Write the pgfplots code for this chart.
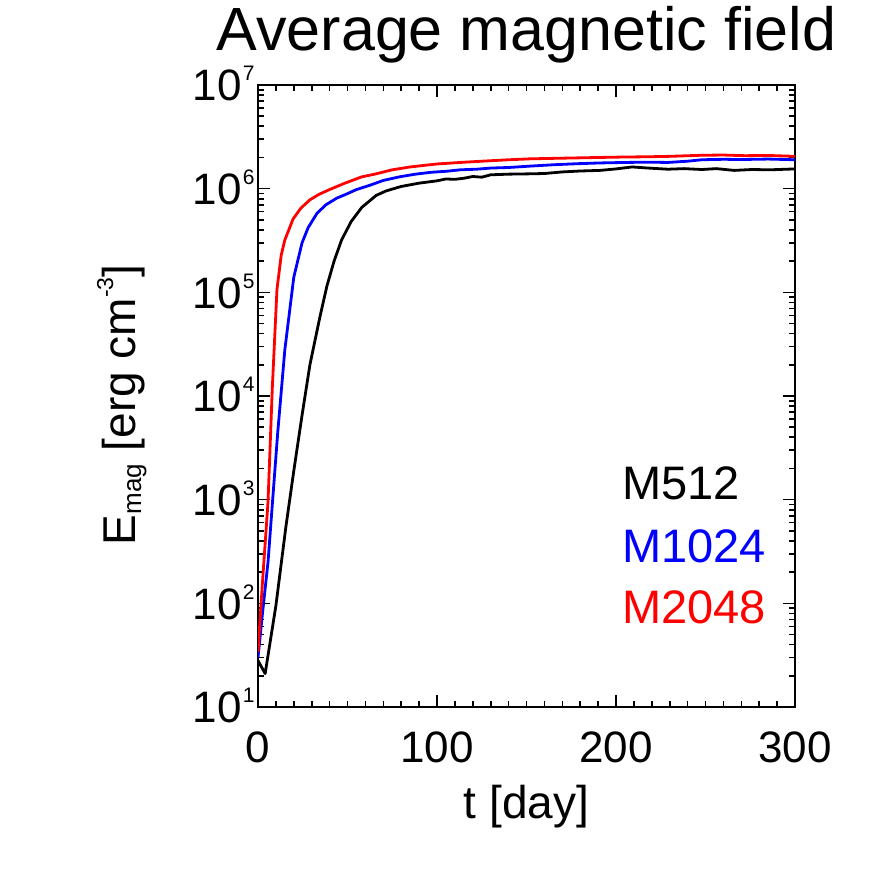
\documentclass[border=0pt]{standalone}
\usepackage{fontspec}
\setmainfont{Liberation Sans}
\usepackage{pgfplots}
\pgfplotsset{compat=1.18}

% tick label 10^n set in the text font
\newcommand{\tl}[1]{10\hspace{1pt}\raisebox{20pt}{\fontsize{21}{21}\selectfont #1}}
\newcommand{\sub}[1]{\raisebox{-6pt}{\fontsize{26}{26}\selectfont #1}}
\newcommand{\sups}[1]{\raisebox{22pt}{\fontsize{23}{23}\selectfont #1}}

\begin{document}
\begin{tikzpicture}
\useasboundingbox (0,0) rectangle (872pt,872pt);
\begin{axis}[
    at={(258pt,165pt)}, anchor=south west,
    scale only axis, width=537pt, height=622pt,
    ymode=log,
    xmin=0, xmax=300, ymin=10, ymax=1e7,
    xtick={0,100,200,300},
    minor x tick num=9,
    ytick={1e1,1e2,1e3,1e4,1e5,1e6,1e7},
    yticklabels={\tl{1},\tl{2},\tl{3},\tl{4},\tl{5},\tl{6},\tl{7}},
    /pgf/number format/assume math mode=true,
    tick align=inside,
    major tick length=12pt, minor tick length=6pt,
    every tick/.style={black, line width=1.6pt},
    axis line style={line width=2.2pt},
    tick label style={font=\fontsize{44}{44}\selectfont},
    xticklabel style={yshift=-21pt},
    yticklabel style={anchor=base east, yshift=-15.75pt},
    xlabel={t [day]},
    xlabel style={font=\fontsize{46}{46}\selectfont, at={(axis description cs:0.5,0)}, anchor=base, yshift=-112pt},
    ylabel={E\sub{mag} [erg cm\sups{-3}]},
    ylabel style={font=\fontsize{46}{46}\selectfont, at={(axis description cs:-0.229,0.4855)}, anchor=base},
    title={Average magnetic field},
    title style={font=\fontsize{61}{61}\selectfont, at={(axis description cs:0.5,1)}, anchor=base, yshift=28pt},
    every axis plot/.append style={line width=2.8pt, line join=round},
    clip mode=individual,
]
% M512
\addplot[black] coordinates {
(0,28) (4,21) (10,95) (15.6,550) (20,1900) (24.6,6500) (29,20000) (34.6,58000)
(38.5,115000) (42.5,200000) (46.7,320000) (52,480000) (58,660000) (66,860000)
(71.5,950000) (80,1050000) (90,1130000) (100,1190000) (105,1240000) (110,1230000)
(115,1260000) (120,1310000) (125,1290000) (130,1360000) (140,1380000) (152,1390000)
(160,1400000) (170,1450000) (180,1480000) (191,1500000) (200,1550000) (209,1620000)
(218,1580000) (229,1540000) (238,1560000) (248,1530000) (256,1560000) (266,1500000)
(276,1530000) (286,1520000) (300,1550000)
};
% M1024
\addplot[blue] coordinates {
(0,30) (2.5,80) (5.6,250) (8,900) (11,4400) (15,28000) (20,140000) (24.6,300000)
(28,420000) (33,580000) (38,700000) (44,810000) (49,880000) (55,980000) (62.6,1080000) (70,1200000)
(79,1300000) (88,1380000) (97,1440000) (105,1470000) (113,1520000) (122,1540000)
(130,1580000) (140,1600000) (152,1650000) (165,1700000) (178,1740000) (191,1770000)
(205,1790000) (218,1800000) (229,1790000) (240,1840000) (248,1900000) (260,1920000)
(270,1910000) (285,1930000) (300,1900000)
};
% M2048
\addplot[red] coordinates {
(0,34) (2.5,160) (5.6,950) (8,12000) (10.6,107000) (13,230000) (15,320000) (19.6,510000)
(24,650000) (29,780000) (34,880000) (40,980000) (48,1120000) (58,1300000)
(66,1390000) (75,1520000) (85,1620000) (100,1730000) (113,1790000) (125,1840000)
(140,1900000) (152,1940000) (165,1960000) (178,1980000) (191,2000000) (205,2020000)
(218,2030000) (230,2050000) (248,2100000) (260,2110000) (272,2080000) (285,2090000)
(300,2050000)
};
\node[anchor=base west, font=\fontsize{47}{47}\selectfont, text=black] at (rel axis cs:0.672,0.333) {M512};
\node[anchor=base west, font=\fontsize{47}{47}\selectfont, text=blue] at (rel axis cs:0.672,0.2315) {M1024};
\node[anchor=base west, font=\fontsize{47}{47}\selectfont, text=red] at (rel axis cs:0.672,0.135) {M2048};
\end{axis}
\end{tikzpicture}
\end{document}
